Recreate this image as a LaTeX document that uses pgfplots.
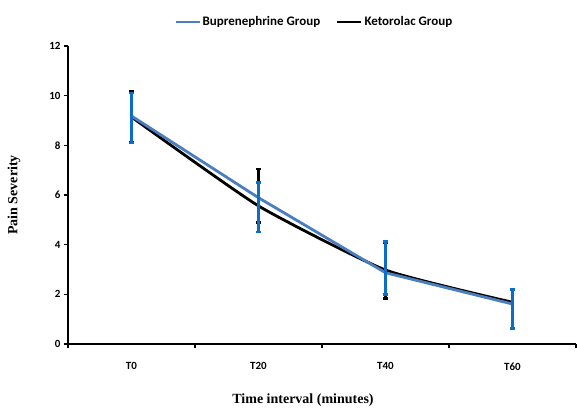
\documentclass[border=0pt]{standalone}
\usepackage{pgfplots}
\pgfplotsset{compat=1.18}
\usepackage{fontspec}
\setmainfont{Carlito}
\newfontfamily\labelfont{Liberation Serif}
\definecolor{bupline}{RGB}{74,126,190}
\definecolor{buperr}{RGB}{10,110,200}
\begin{document}
\begin{tikzpicture}
\path[use as bounding box] (0pt,0pt) rectangle (577pt,408pt);
\begin{axis}[
  at={(68pt,64pt)}, anchor=south west,
  scale only axis, width=508pt, height=298pt,
  xmin=-0.5, xmax=3.5, ymin=0, ymax=12,
  axis lines=left, axis line style={-, line width=2pt, black},
  xtick={-0.5,0.5,1.5,2.5,3.5}, xticklabels={},
  extra x ticks={0,1,2,3}, extra x tick labels={T0,T20,T40,T60},
  extra x tick style={major tick length=0pt, tick label style={font=\bfseries\fontsize{11}{13}\selectfont, yshift=-15pt}},
  ytick={0,2,...,12},
  tick style={line width=1.6pt, black},
  major tick length=4pt, tick align=outside,
  tick label style={font=\bfseries\fontsize{11}{13}\selectfont},
  /pgf/number format/assume math mode=true,
  xlabel={\labelfont\bfseries Time interval (minutes)},
  xlabel style={font=\fontsize{14}{16}\selectfont, at={(axis description cs:0.4626,-0.188)}, anchor=center},
  ylabel={\labelfont\bfseries Pain Severity},
  ylabel style={font=\fontsize{14}{16}\selectfont, at={(axis description cs:-0.106,0.5)}, anchor=center},
  clip=false,
  reverse legend,
  legend style={at={(axis description cs:0.485,1.0815)}, anchor=center, draw=none, fill=none,
     legend columns=-1, font=\bfseries\fontsize{13}{15}\selectfont,
     /tikz/every even column/.append style={column sep=14pt}},
  legend image code/.code={\draw[#1, line width=2.2pt] (0pt,0pt) -- (24pt,0pt);},
]
\addplot[black, line width=2.8pt, smooth, tension=0.3,
  error bars/.cd, y dir=both, y explicit,
  error bar style={black, line width=2.4pt},
  error mark options={rotate=90, black, line width=2.4pt, mark size=2.2pt}]
  table[x=x, y=y, y error plus=ep, y error minus=em] {
  x y ep em
  0 9.14 1.05 1.00
  1 5.56 1.49 0.66
  2 2.98 1.10 1.15
  3 1.68 0.50 1.05
  };
\addlegendentry{Ketorolac Group}
\addplot[bupline, line width=2.8pt,
  error bars/.cd, y dir=both, y explicit,
  error bar style={buperr, line width=2.4pt},
  error mark options={rotate=90, buperr, line width=2.4pt, mark size=2.2pt}]
  table[x=x, y=y, y error plus=ep, y error minus=em] {
  x y ep em
  0 9.18 0.92 1.08
  1 5.89 0.62 1.37
  2 2.87 1.26 0.87
  3 1.61 0.59 0.98
  };
\addlegendentry{Buprenephrine Group}
\end{axis}
\end{tikzpicture}
\end{document}
